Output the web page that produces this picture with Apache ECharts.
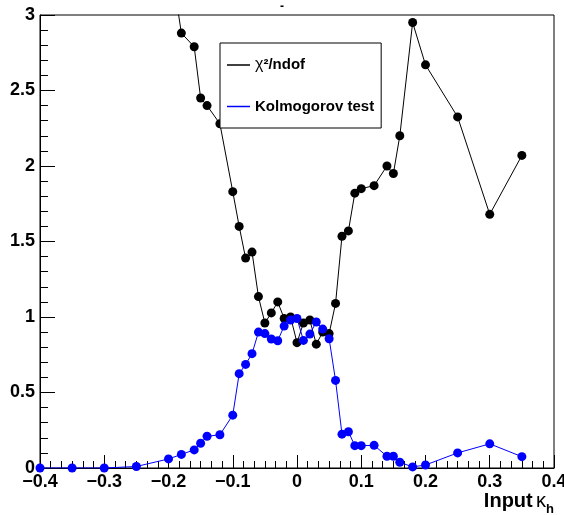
<!DOCTYPE html>
<html>
<head>
<meta charset="utf-8">
<script src="https://cdn.jsdelivr.net/npm/echarts@6/dist/echarts.min.js"></script>
<style>html,body{margin:0;padding:0;background:#fff}#c{width:564px;height:515px}</style>
</head>
<body>
<div id="c"></div>
<script>
// Input kappa_h values
var kappa = [-0.4,-0.35,-0.3,-0.25,-0.2,-0.18,-0.16,-0.15,-0.14,-0.12,-0.1,-0.09,-0.08,-0.07,-0.06,-0.05,-0.04,-0.03,-0.02,-0.01,0,0.01,0.02,0.03,0.04,0.05,0.06,0.07,0.08,0.09,0.1,0.12,0.14,0.15,0.16,0.18,0.2,0.25,0.3,0.35];
// chi2/ndof (points left of -0.18 lie above the plotted range)
var chi2 = [10,8,6,4.5,3.45,2.88,2.79,2.45,2.40,2.28,1.83,1.60,1.39,1.43,1.135,0.96,1.027,1.10,0.99,1.0,0.83,0.96,0.98,0.82,0.90,0.89,1.09,1.535,1.57,1.82,1.85,1.87,2.0,1.95,2.20,2.95,2.67,2.325,1.68,2.07];
// Kolmogorov test probability
var kolmo = [0,0,0,0.01,0.06,0.09,0.12,0.164,0.21,0.22,0.35,0.625,0.686,0.757,0.90,0.89,0.854,0.843,0.94,0.98,0.99,0.845,0.887,0.967,0.92,0.856,0.58,0.224,0.24,0.148,0.148,0.15,0.078,0.078,0.038,0.007,0.02,0.10,0.16,0.075];
var seriesNames = ['χ²/ndof','Kolmogorov test'];

function pairs(xs, ys){ return xs.map(function(x,i){ return [x, ys[i]]; }); }
var FONT = '"Liberation Sans", Arial, sans-serif';
var chart = echarts.init(document.getElementById('c'), null, {renderer:'canvas'});
chart.setOption({
  animation:false,
  backgroundColor:'#fff',
  title:{text:'-', left:275, top:-4, textStyle:{fontSize:12, fontWeight:'bold', color:'#000', fontFamily:FONT}},
  grid:{left:40, right:10, top:15, bottom:47, containLabel:false, outerBoundsMode:'none',
        show:true, borderColor:'#000', borderWidth:1, backgroundColor:'transparent'},
  legend:{
    orient:'vertical', left:220, top:43,
    padding:[14,7,14,7], itemGap:26, itemWidth:23, itemHeight:1.5,
    backgroundColor:'#fff', borderColor:'#000', borderWidth:1,
    data:[{name:seriesNames[0], icon:'rect'},{name:seriesNames[1], icon:'rect'}],
    formatter:function(n){ return n===seriesNames[0] ? '{g|χ}{b|²/ndof}' : '{b|'+n+'}'; },
    textStyle:{color:'#000', fontFamily:FONT, fontSize:15, rich:{
      g:{fontFamily:FONT, fontSize:16, fontWeight:'normal', color:'#000'},
      b:{fontFamily:FONT, fontSize:15, fontWeight:'bold', color:'#000'}
    }}
  },
  xAxis:{
    type:'value', min:-0.4, max:0.4, interval:0.1,
    name:'{a|Input} {k|κ}{s|h}', nameLocation:'end', nameGap:0, nameMoveOverlap:false,
    nameTextStyle:{align:'right', verticalAlign:'top', padding:[23,0,0,0], rich:{
      a:{fontFamily:FONT, fontSize:20, fontWeight:'bold', color:'#000', lineHeight:20, verticalAlign:'top'},
      k:{fontFamily:FONT, fontSize:20, fontWeight:'normal', color:'#000', lineHeight:20, verticalAlign:'top'},
      s:{fontFamily:FONT, fontSize:13, fontWeight:'bold', color:'#000', lineHeight:13, verticalAlign:'top', padding:[12,0,0,0]}
    }},
    axisLine:{show:true, onZero:false, lineStyle:{color:'#000', width:1}},
    axisTick:{show:true, inside:true, length:13, lineStyle:{color:'#000'}},
    minorTick:{show:true, splitNumber:6, length:7, lineStyle:{color:'#000'}},
    splitLine:{show:false},
    axisLabel:{margin:5, color:'#000', fontFamily:FONT, fontSize:18, fontWeight:'bold',
      formatter:function(v){ var s = (Math.round(v*10)/10).toString(); return s.replace('-', '\u2212'); }}
  },
  yAxis:{
    type:'value', min:0, max:3, interval:0.5,
    axisLine:{show:true, onZero:false, lineStyle:{color:'#000', width:1}},
    axisTick:{show:true, inside:true, length:15, lineStyle:{color:'#000'}},
    minorTick:{show:true, splitNumber:5, length:8, lineStyle:{color:'#000'}},
    splitLine:{show:false},
    axisLabel:{margin:5, color:'#000', fontFamily:FONT, fontSize:18, fontWeight:'bold'}
  },
  series:[
    {name:seriesNames[0], type:'line', data:pairs(kappa, chi2), clip:true,
     symbol:'circle', symbolSize:9, showAllSymbol:true,
     lineStyle:{color:'#000', width:1}, itemStyle:{color:'#000'}},
    {name:seriesNames[1], type:'line', data:pairs(kappa, kolmo), clip:true,
     symbol:'circle', symbolSize:9, showAllSymbol:true,
     lineStyle:{color:'#0000ff', width:1}, itemStyle:{color:'#0000ff'}}
  ]
});
</script>
</body>
</html>
